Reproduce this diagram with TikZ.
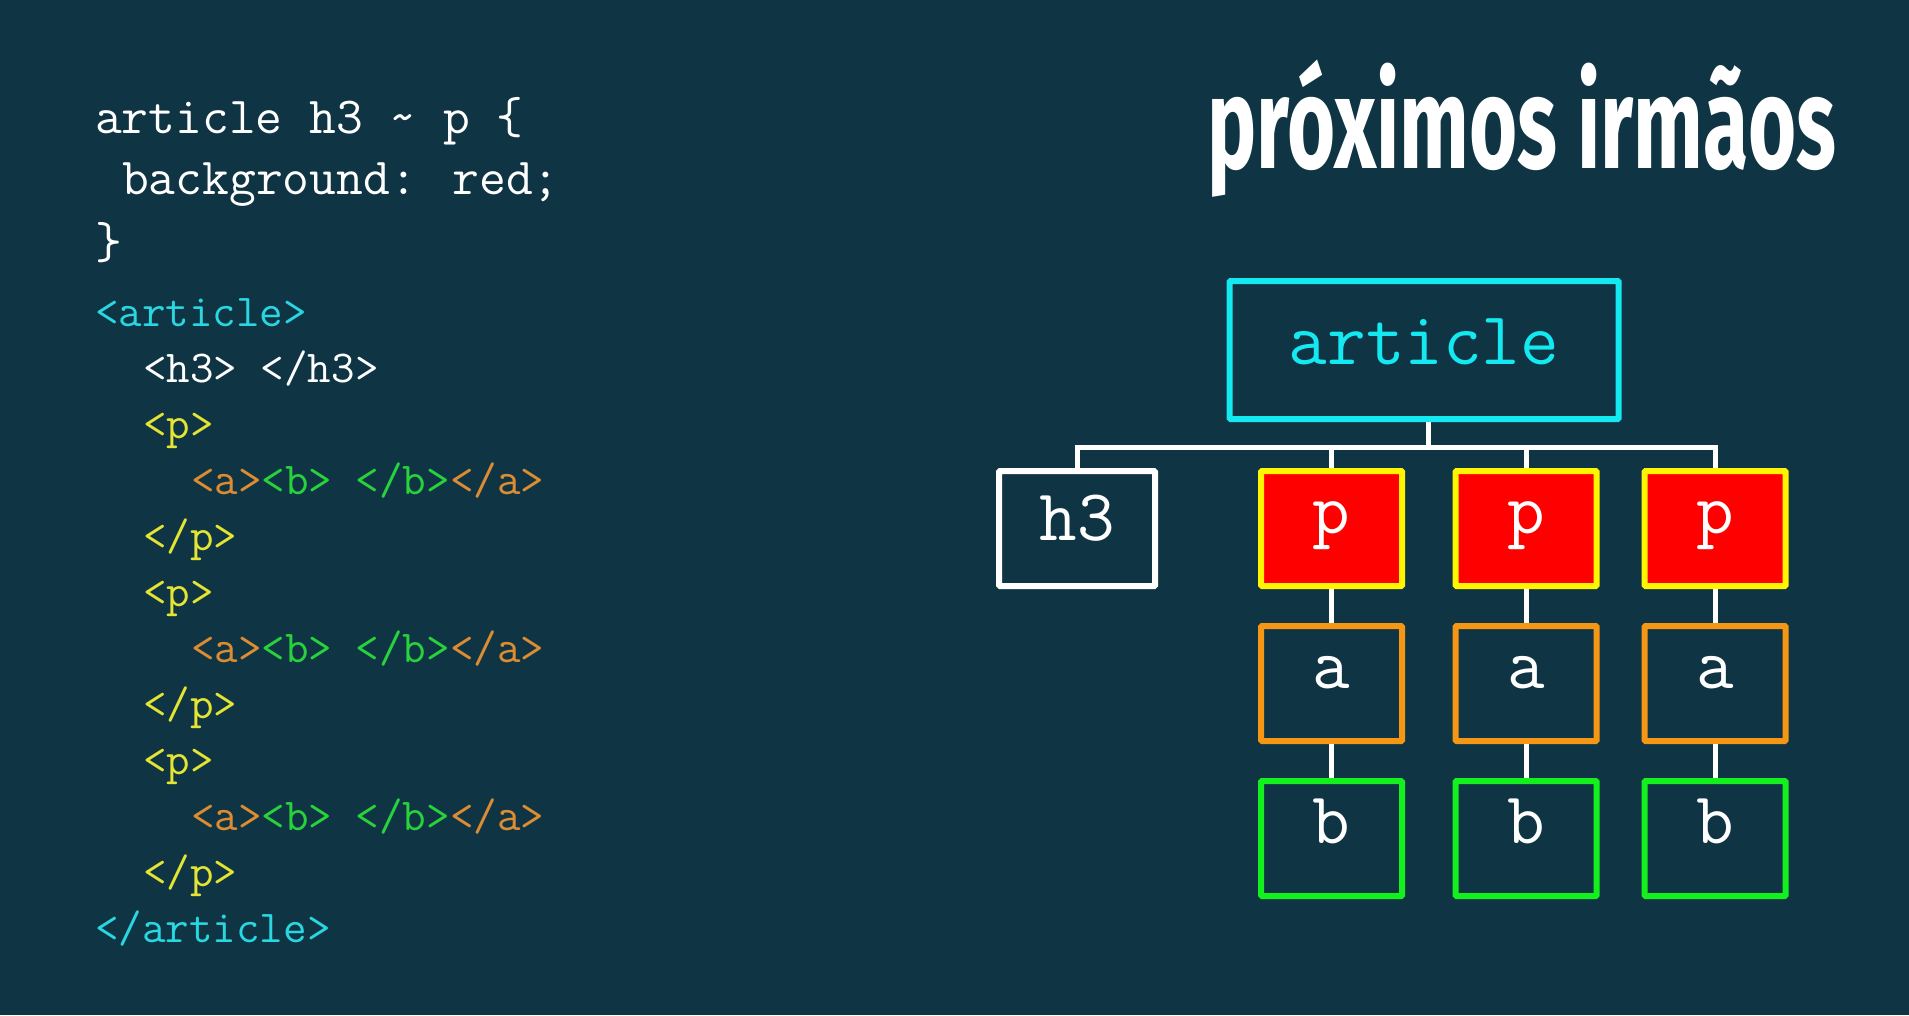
\documentclass[tikz,border=0pt]{standalone}
\usepackage{fontspec}
\usepackage{graphicx}
\newfontfamily\titlefont{Fira Sans}
\usetikzlibrary{positioning}
\definecolor{bgcol}{RGB}{15,53,68}
\definecolor{codecyan}{RGB}{40,215,225}
\definecolor{codeyellow}{RGB}{228,228,50}
\definecolor{codeorange}{RGB}{222,140,50}
\definecolor{codegreen}{RGB}{40,210,60}
\definecolor{boxcyan}{RGB}{20,232,240}
\definecolor{boxyellow}{RGB}{255,245,0}
\definecolor{boxred}{RGB}{255,0,0}
\definecolor{boxorange}{RGB}{245,150,20}
\definecolor{boxgreen}{RGB}{20,240,30}

\begin{document}
\begin{tikzpicture}[x=1pt, y=-1pt, node distance={34pt},
  box/.style = {draw, line width=6pt, rounded corners=1pt, minimum width=141pt, minimum height=115pt, inner sep=0pt, text height=30pt, text depth=20pt, text=white, font=\fontsize{73}{73}\selectfont\ttfamily},
  pbox/.style = {box, draw=boxyellow, fill=boxred},
  abox/.style = {box, draw=boxorange},
  bbox/.style = {box, draw=boxgreen},
  link/.style = {draw=white, line width=5pt},
  css/.style = {anchor=base west, inner sep=0pt, text=white, font=\fontsize{52}{52}\selectfont\ttfamily},
  html/.style = {anchor=base west, inner sep=0pt, font=\fontsize{45.7}{46}\selectfont\ttfamily}]
  \fill[bgcol] (0,0) rectangle (1909,1015);
  \useasboundingbox (0,0) rectangle (1909,1015);

  % css rule
  \node[css] (css1) at (95,133) {article h3 \textasciitilde{} p \{};
  \node[css] (css2) at (122,194) {background: red;};
  \node[css] (css3) at (95,258) {\}};

  % html
  \node[html, text=codecyan] (h1) at (95,326) {<article>};
  \node[html, text=white] (h2) at (143,382) {<h3> </h3>};
  \node[html, text=codeyellow] (h3) at (143,438) {<p>};
  \node[html] (h4) at (191,494) {\textcolor{codeorange}{<a>}\textcolor{codegreen}{<b> </b>}\textcolor{codeorange}{</a>}};
  \node[html, text=codeyellow] (h5) at (143,550) {</p>};
  \node[html, text=codeyellow] (h6) at (143,606) {<p>};
  \node[html] (h7) at (191,662) {\textcolor{codeorange}{<a>}\textcolor{codegreen}{<b> </b>}\textcolor{codeorange}{</a>}};
  \node[html, text=codeyellow] (h8) at (143,718) {</p>};
  \node[html, text=codeyellow] (h9) at (143,774) {<p>};
  \node[html] (h10) at (191,830) {\textcolor{codeorange}{<a>}\textcolor{codegreen}{<b> </b>}\textcolor{codeorange}{</a>}};
  \node[html, text=codeyellow] (h11) at (143,886) {</p>};
  \node[html, text=codecyan] (h12) at (95,942) {</article>};

  % title
  \node[anchor=base west, inner sep=0pt, text=white] (title) at (1207,168) {\scalebox{0.635}[1]{\titlefont\bfseries\fontsize{130}{130}\selectfont próximos irmãos}};

  % tree
  \node[box, draw=boxcyan, text=boxcyan, minimum width=389pt, minimum height=138pt, text depth=2pt, font=\fontsize{75}{75}\selectfont\ttfamily] (art) at (1424,350) {article};
  \node[box, draw=white, minimum width=156pt, text depth=6pt] (hthree) at (1077,528.5) {h3};
  \node[pbox] (p1) at (1331.5,528.5) {p};
  \node[pbox] (p2) at (1526,528.5) {p};
  \node[pbox] (p3) at (1715,528.5) {p};
  \node[abox] (a1) [below=of p1] {a};
  \node[abox] (a2) [below=of p2] {a};
  \node[abox] (a3) [below=of p3] {a};
  \node[bbox] (b1) [below=of a1] {b};
  \node[bbox] (b2) [below=of a2] {b};
  \node[bbox] (b3) [below=of a3] {b};

  \coordinate (bus) at (1428,447);
  \draw[link] (hthree.north) |- (bus) -| (p3.north);
  \draw[link] (art.south -| bus) -- (bus);
  \draw[link] (p1.north) -- (p1.north |- bus);
  \draw[link] (p2.north) -- (p2.north |- bus);
  \draw[link] (p1) -- (a1);
  \draw[link] (p2) -- (a2);
  \draw[link] (p3) -- (a3);
  \draw[link] (a1) -- (b1);
  \draw[link] (a2) -- (b2);
  \draw[link] (a3) -- (b3);
\end{tikzpicture}
\end{document}
